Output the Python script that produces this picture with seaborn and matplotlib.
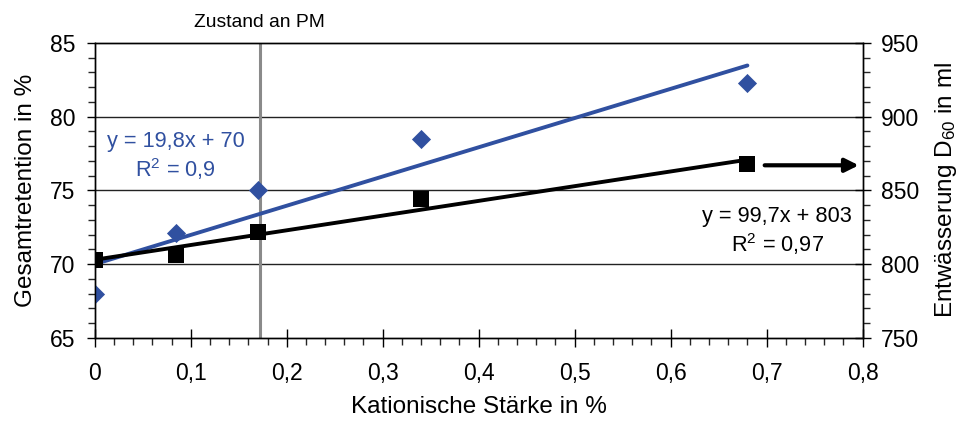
import matplotlib
matplotlib.use("Agg")
import matplotlib.pyplot as plt
import matplotlib.transforms as mtransforms
from matplotlib.ticker import MultipleLocator, FixedLocator, FixedFormatter
import numpy as np
import pandas as pd
import seaborn as sns

# ---- data ----
starch = [0.0, 0.085, 0.17, 0.34, 0.68]
retention = [68.0, 72.1, 75.0, 78.5, 82.3]
drainage = [803, 806, 822, 844, 868]
ret_fit = (19.8, 70.0)
dr_fit = (99.7, 803.0)
fit_x = [0.0, 0.68]
pm_state = 0.172
x_ticks = [0, 0.1, 0.2, 0.3, 0.4, 0.5, 0.6, 0.7, 0.8]
x_labels = ["0", "0,1", "0,2", "0,3", "0,4", "0,5", "0,6", "0,7", "0,8"]
left_ticks = [65, 70, 75, 80, 85]
right_ticks = [750, 800, 850, 900, 950]

sns.set_theme(style="white")
plt.rcParams["font.family"] = ["Liberation Sans", "DejaVu Sans"]
plt.rcParams["mathtext.fontset"] = "custom"
plt.rcParams["mathtext.rm"] = "Liberation Sans"
plt.rcParams["mathtext.default"] = "regular"

BLUE = "#3050a0"
TICK_FS = 16.5
LABEL_FS = 17.5
ANNO_FS = 15.7

fig = plt.figure(figsize=(9.67, 4.24), dpi=100)
ax = fig.add_axes([0.098, 0.203, 0.794, 0.696])
ax2 = ax.twinx()

df = pd.DataFrame({"x": starch, "ret": retention, "dr": drainage})
fx = np.array(fit_x)
fit_df = pd.DataFrame({"x": fx,
                       "ret": ret_fit[0] * fx + ret_fit[1],
                       "dr": dr_fit[0] * fx + dr_fit[1]})

# gridlines
for v in left_ticks[1:-1]:
    ax.axhline(v, color="#222222", lw=1.0, zorder=0)
ax.axvline(pm_state, color="#8a8a8a", lw=2.2, zorder=1)

sns.lineplot(data=fit_df, x="x", y="ret", ax=ax, color=BLUE, lw=2.8, zorder=3)
sns.scatterplot(data=df, x="x", y="ret", ax=ax, marker="D", s=95,
                color=BLUE, edgecolor=BLUE, linewidth=0, zorder=4)

sns.lineplot(data=fit_df, x="x", y="dr", ax=ax2, color="black", lw=2.8, zorder=3)
sns.scatterplot(data=df, x="x", y="dr", ax=ax2, marker="s", s=120,
                color="black", edgecolor="black", linewidth=0, zorder=4)

ax.set_xlim(0, 0.8)
ax.set_ylim(65, 85)
ax2.set_ylim(750, 950)

ax.xaxis.set_major_locator(FixedLocator(x_ticks))
ax.xaxis.set_major_formatter(FixedFormatter(x_labels))
ax.xaxis.set_minor_locator(MultipleLocator(0.02))
ax.yaxis.set_major_locator(FixedLocator(left_ticks))
ax.yaxis.set_minor_locator(MultipleLocator(1))
ax2.yaxis.set_major_locator(FixedLocator(right_ticks))
ax2.yaxis.set_minor_locator(MultipleLocator(10))

for a in (ax, ax2):
    for s in a.spines.values():
        s.set_visible(True)
        s.set_color("black")
        s.set_linewidth(1.0)

ax.tick_params(axis="x", which="major", direction="inout", length=13, width=1,
               pad=11, labelsize=TICK_FS, colors="black", bottom=True)
ax.tick_params(axis="x", which="minor", direction="out", length=5, width=1, bottom=True)
ax.tick_params(axis="y", which="major", direction="out", length=6, width=1,
               pad=8, labelsize=TICK_FS, colors="black", left=True)
ax.tick_params(axis="y", which="minor", direction="out", length=5, width=1, left=True)
ax2.tick_params(axis="y", which="major", direction="inout", length=11, width=1,
                pad=8, labelsize=TICK_FS, colors="black", right=True)
ax2.tick_params(axis="y", which="minor", direction="out", length=5, width=1, right=True)

ax.set_xlabel("Kationische Stärke in %", fontsize=LABEL_FS, labelpad=8, color="black")
ax.set_ylabel("Gesamtretention in %", fontsize=LABEL_FS, labelpad=9, color="black")
ax2.set_ylabel("Entwässerung D$_{60}$ in ml", fontsize=LABEL_FS, labelpad=10,
               color="black", rotation=90)

ax.text(0.084, 77.27, "y = 19,8x + 70\nR$^2$ = 0,9", color=BLUE, fontsize=ANNO_FS,
        ha="center", va="center", linespacing=1.2, zorder=5)
ax2.text(0.711, 822.0, "y = 99,7x + 803\nR$^2$ = 0,97", color="black", fontsize=ANNO_FS,
         ha="center", va="center", linespacing=1.2, zorder=5)

ax2.annotate("", xy=(0.796, 867), xytext=(0.698, 867),
             arrowprops=dict(arrowstyle="-|>", color="black", lw=3,
                             mutation_scale=20, shrinkA=0, shrinkB=0))

trans = mtransforms.blended_transform_factory(ax.transData, ax.transAxes)
ax.text(pm_state, 1.068, "Zustand an PM", transform=trans, ha="center", va="center",
        fontsize=13.9, color="black")

fig.savefig("out.png", dpi=100)
